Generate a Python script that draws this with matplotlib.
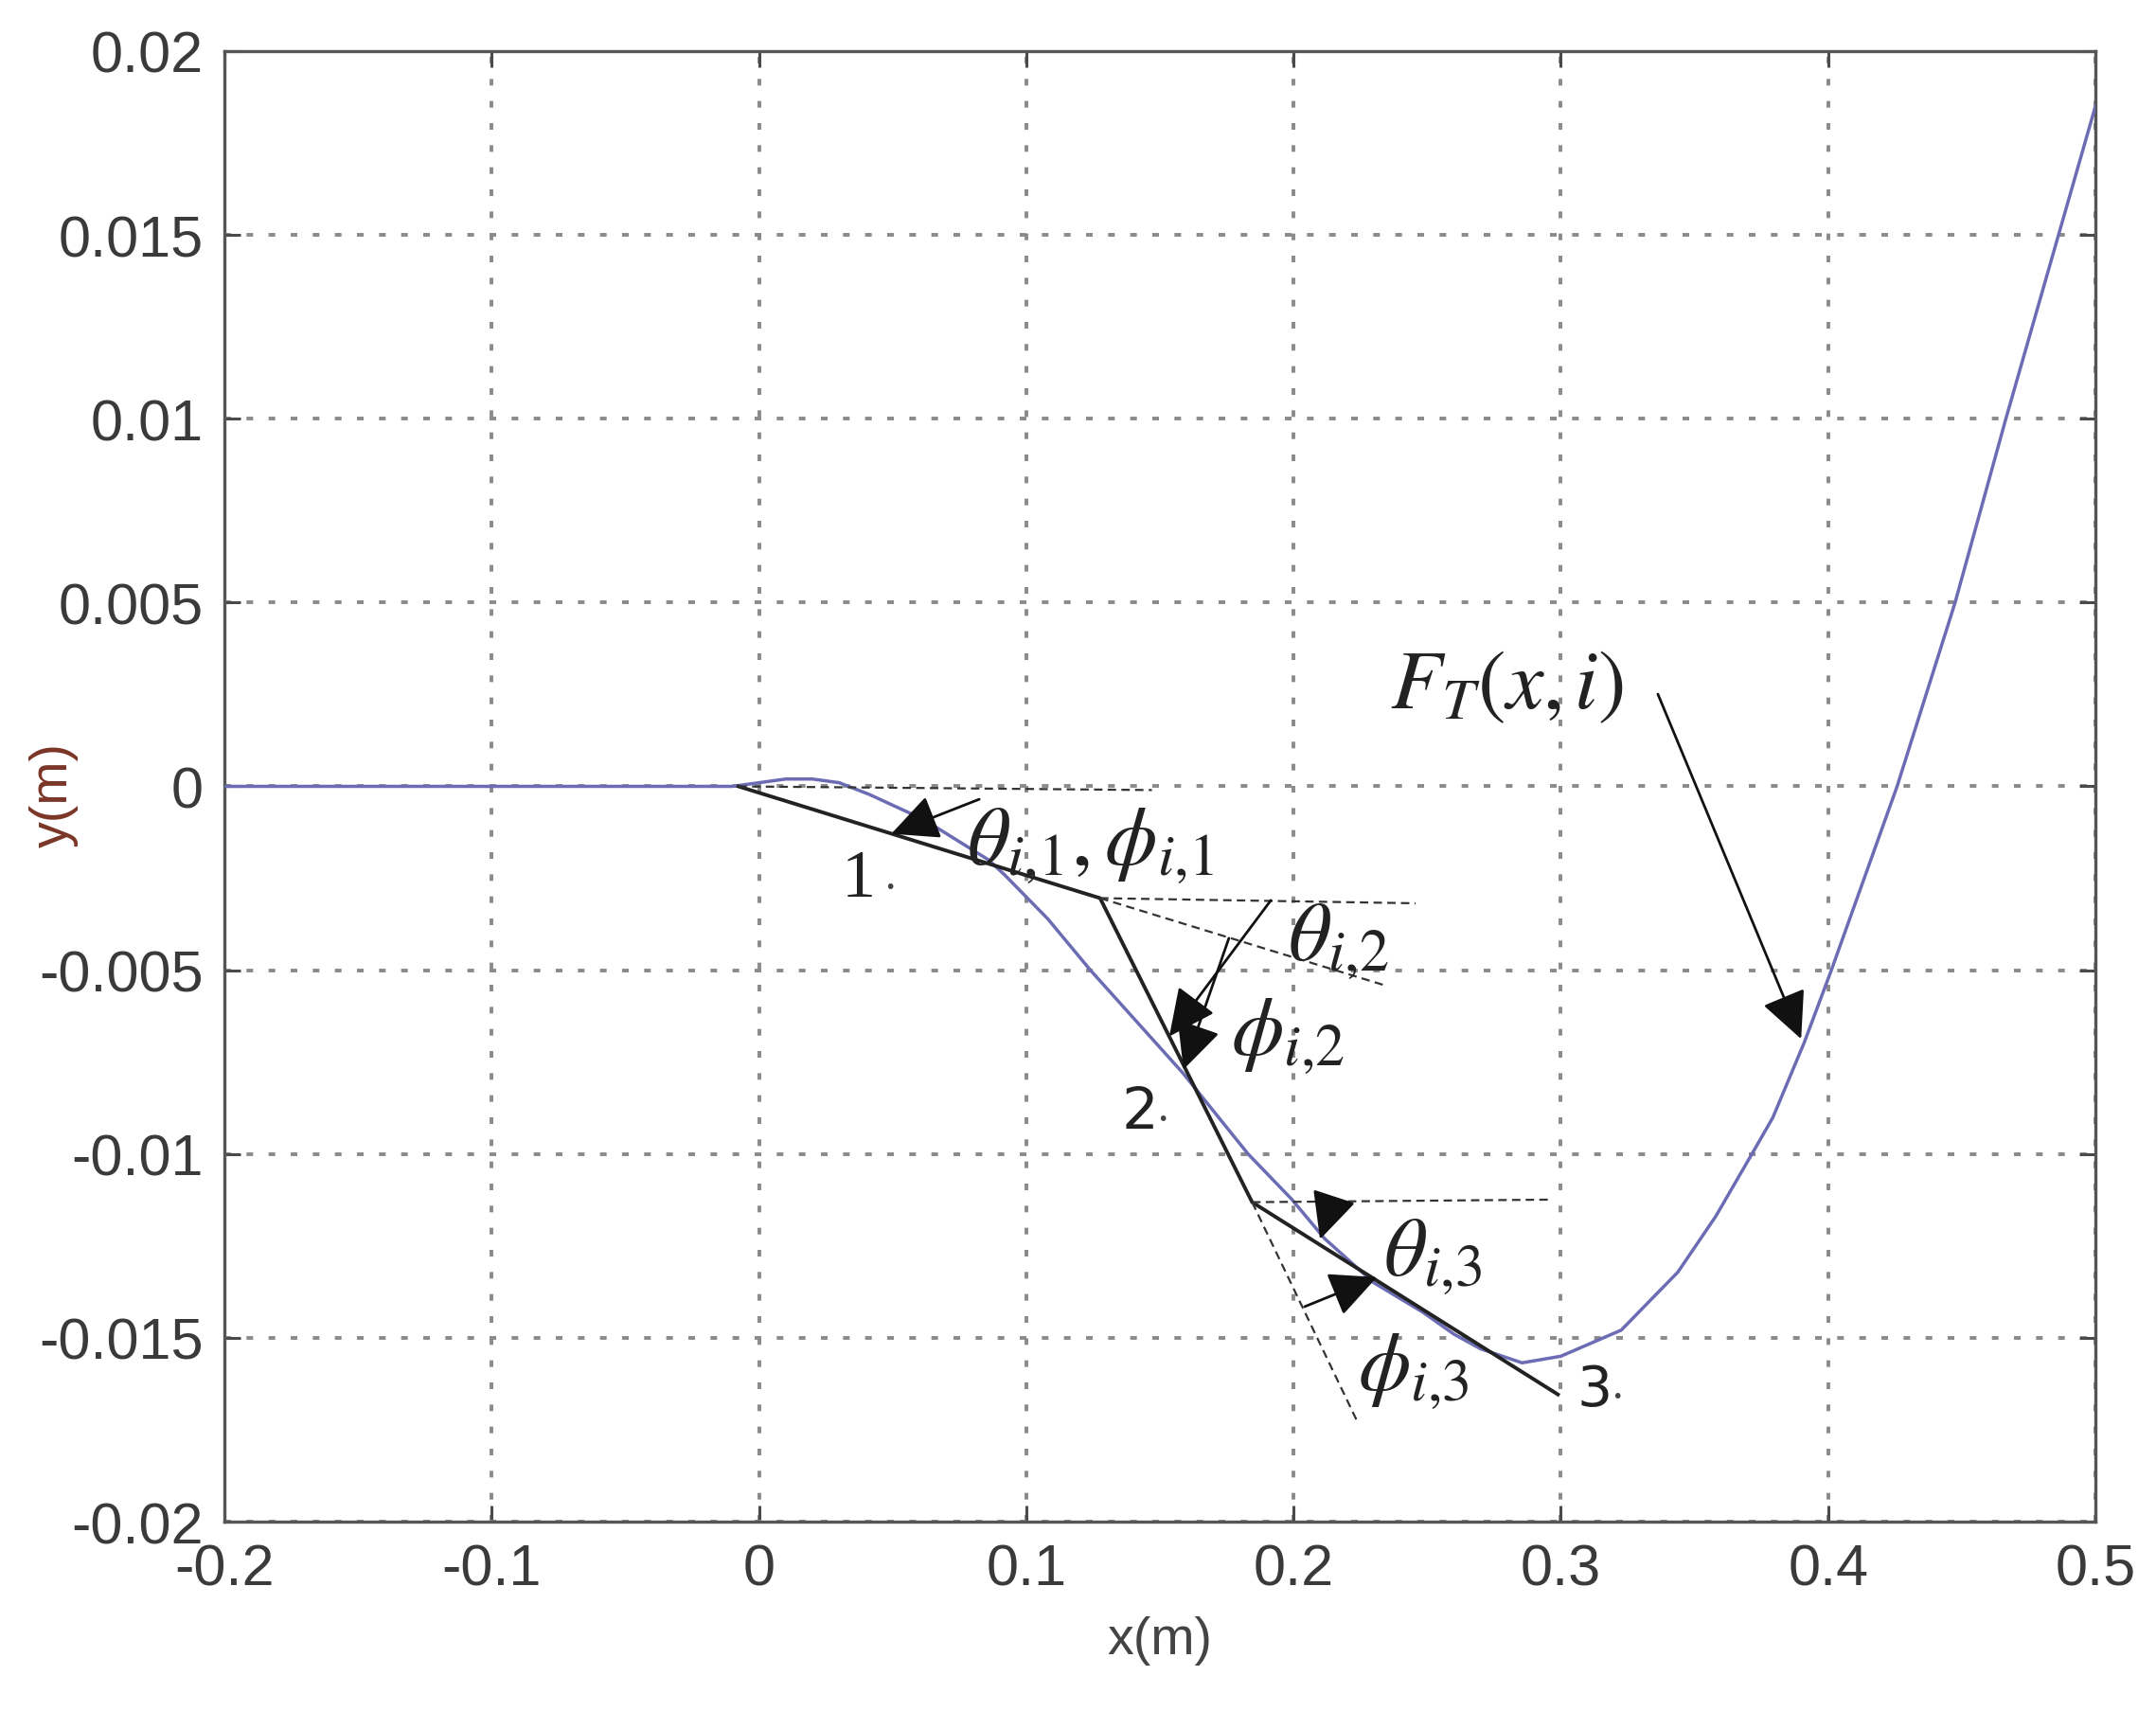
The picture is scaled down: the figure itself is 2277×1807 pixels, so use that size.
import numpy as np
import matplotlib
matplotlib.use("Agg")
import matplotlib.pyplot as plt

plt.rcParams['mathtext.fontset'] = 'stix'

# trajectory F_T(x, i)
curve_x = [-0.2, -0.01, 0.0, 0.01, 0.02, 0.03, 0.0413, 0.0616, 0.0859, 0.0918, 0.108,
           0.124, 0.1585, 0.183, 0.1993, 0.2116, 0.23, 0.2483, 0.26, 0.27, 0.2855, 0.30,
           0.3226, 0.3438, 0.358, 0.371, 0.3793, 0.3911, 0.4012, 0.4258, 0.4475,
           0.4665, 0.4862, 0.5]
curve_y = [0.0, 0.0, 0.0001, 0.0002, 0.0002, 0.0001, -0.00022, -0.0009, -0.0020, -0.0024,
           -0.0036, -0.005, -0.00779, -0.01, -0.01123, -0.0123, -0.0135, -0.0143, -0.0149,
           -0.0153, -0.01568, -0.0155, -0.01479, -0.01321, -0.01169, -0.01006, -0.00901,
           -0.00696, -0.005, 0.0, 0.005, 0.01, 0.015, 0.0185]

# piecewise linear segments 1, 2, 3
seg_x = [-0.0077, 0.1276, 0.1845, 0.2989]
seg_y = [0.0, -0.00304, -0.01131, -0.01654]

# dashed helper lines: (x0, y0, x1, y1)
dashed = [
    (-0.0077, 0.0, 0.147, -0.0001),
    (0.1276, -0.00304, 0.2456, -0.00318),
    (0.1276, -0.00304, 0.2336, -0.0054),
    (0.1845, -0.01131, 0.2966, -0.01124),
    (0.1845, -0.01131, 0.224, -0.0173),
]

# angle arrows: (start x, start y, tip x, tip y)
arrows = [
    (0.0824, -0.00035, 0.0495, -0.00129),
    (0.1915, -0.0031, 0.1535, -0.0068),
    (0.1758, -0.00413, 0.1588, -0.0077),
    (0.2145, -0.0113, 0.2099, -0.01232),
    (0.2042, -0.01415, 0.2312, -0.01335),
    (0.3363, 0.00251, 0.3899, -0.00687),
]

# math labels: (text, left x, baseline y)
math_labels = [
    (r'$\theta_{i{,}1},\phi_{i{,}1}$', 0.0777, -0.00207),
    (r'$\theta_{i{,}2}$', 0.1978, -0.00467),
    (r'$\phi_{i{,}2}$', 0.1766, -0.00725),
    (r'$\theta_{i{,}3}$', 0.2336, -0.01325),
    (r'$\phi_{i{,}3}$', 0.224, -0.01637),
    (r'$F_T(x{,}\,i)$', 0.2361, 0.00215),
]

# node labels
node_text = ['1', '2', '3']
node_x = [0.031, 0.1355, 0.3062]
node_y = [-0.00297, -0.00929, -0.01683]
node_font = ['Liberation Serif', 'DejaVu Sans', 'DejaVu Sans']
node_size = [52, 44, 42]

xticks = [-0.2, -0.1, 0, 0.1, 0.2, 0.3, 0.4, 0.5]
xtick_labels = ['-0.2', '-0.1', '0', '0.1', '0.2', '0.3', '0.4', '0.5']
yticks = [-0.02, -0.015, -0.01, -0.005, 0, 0.005, 0.01, 0.015, 0.02]
ytick_labels = ['-0.02', '-0.015', '-0.01', '-0.005', '0', '0.005', '0.01', '0.015', '0.02']

fig = plt.figure(figsize=(22.77, 18.08), dpi=100)
ax = fig.add_axes([0.1041, 0.1106, 0.8678, 0.859])

ax.plot(curve_x, curve_y, color='#6c6cb4', lw=2.5, zorder=3, solid_joinstyle='round')
ax.plot(seg_x, seg_y, color='#222222', lw=2.8, zorder=4)

for x0, y0, x1, y1 in dashed:
    ax.plot([x0, x1], [y0, y1], color='#333333', lw=1.6, linestyle=(0, (4, 2.5)), zorder=4)

for x0, y0, x1, y1 in arrows:
    ax.annotate('', xy=(x1, y1), xytext=(x0, y0),
                arrowprops=dict(arrowstyle='-|>,head_length=0.5,head_width=0.24',
                                mutation_scale=62, lw=2.0, color='#111111',
                                shrinkA=0, shrinkB=0), zorder=5)

for txt, tx, ty in math_labels:
    ax.text(tx, ty, txt, fontsize=64, ha='left', va='baseline', color='#222222', zorder=6)

for txt, tx, ty, fam, fs in zip(node_text, node_x, node_y, node_font, node_size):
    ax.text(tx, ty, txt, fontsize=fs, family=fam, ha='left', va='baseline', color='#222222')
    ax.annotate('\u2022', xy=(tx, ty), xytext=(fs * 0.62, 3), textcoords='offset points',
                fontsize=14, color='#444444', ha='left', va='baseline')

ax.set_xlim(-0.2, 0.5)
ax.set_ylim(-0.02, 0.02)
ax.set_xticks(xticks)
ax.set_xticklabels(xtick_labels)
ax.set_yticks(yticks)
ax.set_yticklabels(ytick_labels)

ax.grid(True, color='#8a8a8a', lw=2.8, linestyle=(0, (1.8, 4.2)))
ax.set_axisbelow(True)
ax.tick_params(direction='in', length=12, width=2.2, color='#4a4a4a',
               top=True, right=True, labelsize=44, labelcolor='#3a3a3a', pad=16)
for lab in ax.get_xticklabels() + ax.get_yticklabels():
    lab.set_family('Liberation Sans')
for sp in ax.spines.values():
    sp.set_color('#555555')
    sp.set_linewidth(2.4)

ax.set_xlabel('x(m)', fontsize=40, family='Liberation Sans', color='#444444', labelpad=14)
ax.set_ylabel('y(m)', fontsize=40, family='Liberation Sans', color='#7a3526')
ax.yaxis.set_label_coords(-0.078, 0.495)

fig.savefig('out.png', dpi=100, facecolor='white')
